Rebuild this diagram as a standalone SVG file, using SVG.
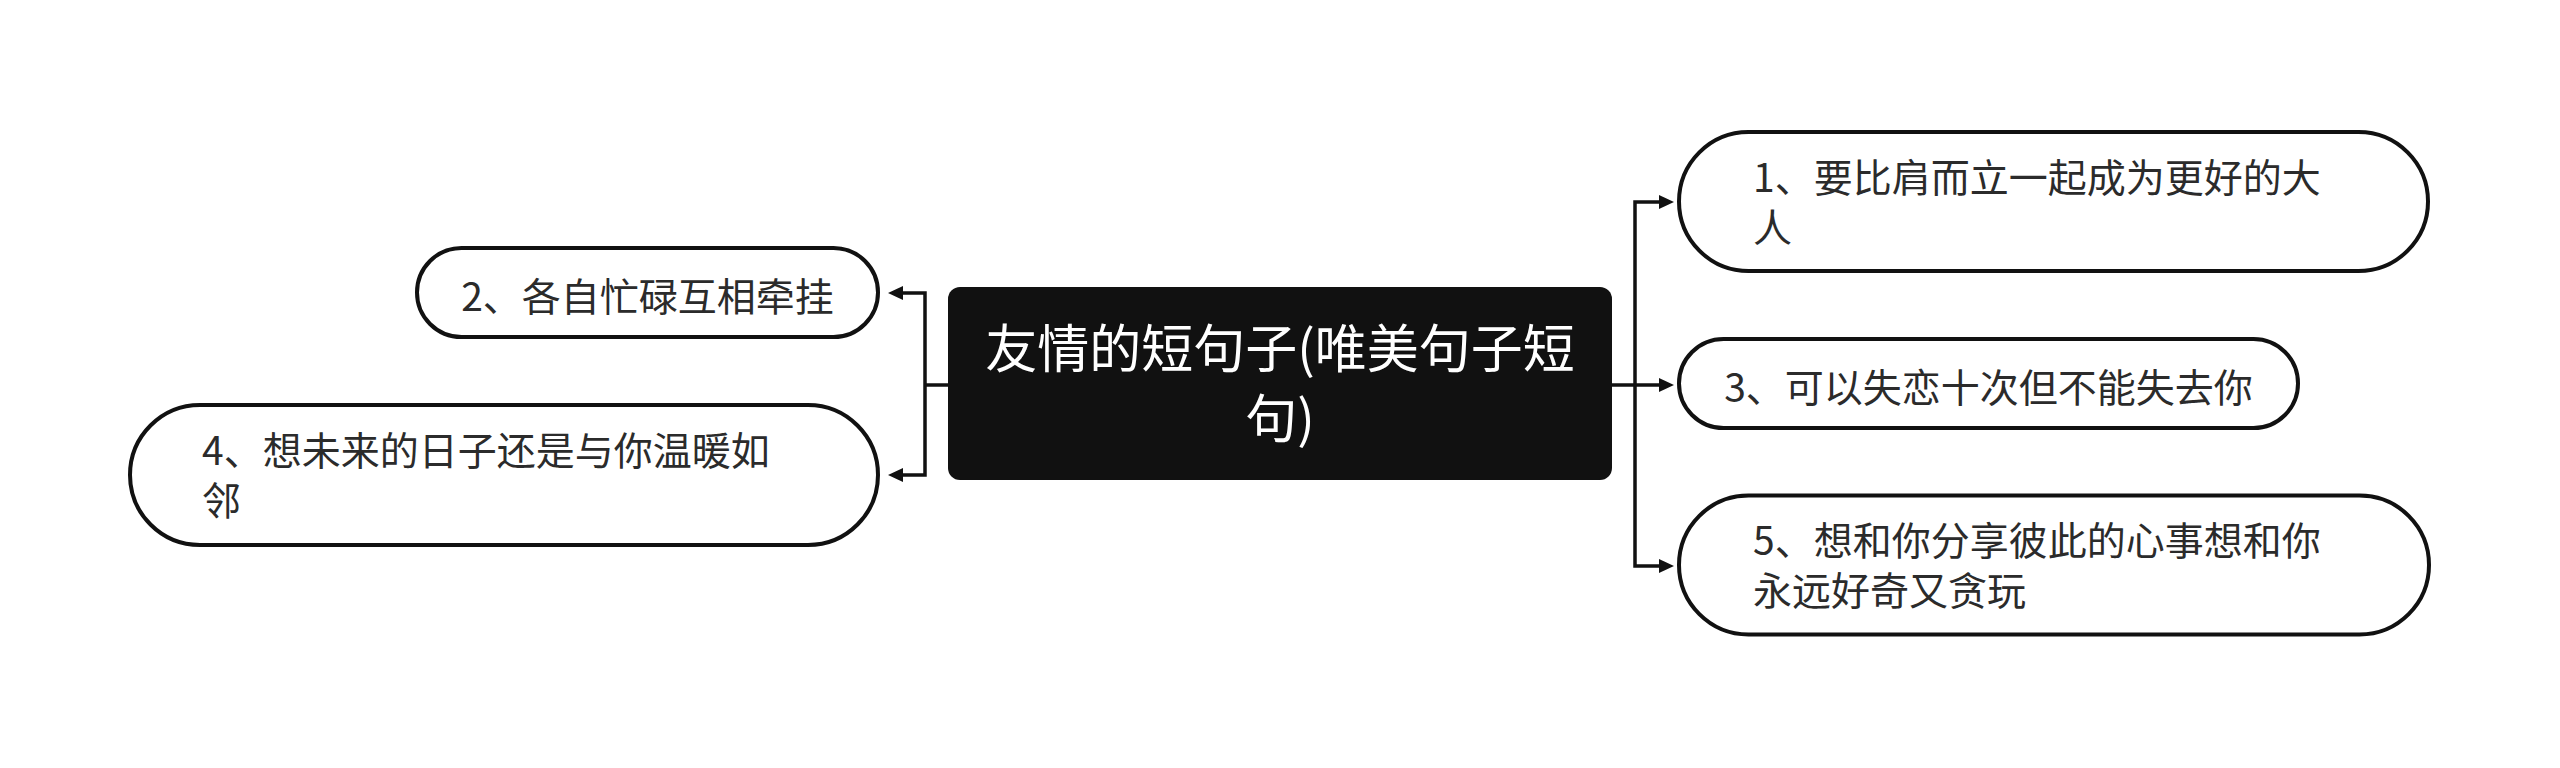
<svg xmlns="http://www.w3.org/2000/svg" width="2560" height="768" viewBox="0 0 2560 768">
  <defs>
    <style>
      .node { fill: #ffffff; stroke: #111111; stroke-width: 4; }
      .root { fill: #111111; }
      .t { font-family: "Noto Sans CJK SC", "Noto Sans", sans-serif; font-size: 39px; fill: #2b2b2b; }
      .rt { font-family: "Noto Sans CJK SC", "Noto Sans", sans-serif; font-size: 52px; fill: #ffffff; text-anchor: middle; }
      .c { text-anchor: middle; }
      .conn { fill: none; stroke: #111111; stroke-width: 3.5; }
    </style>
    <marker id="arrow" markerUnits="userSpaceOnUse" markerWidth="15" markerHeight="15" refX="0" refY="7.5" orient="auto">
      <path d="M0,0.5 L15,7.5 L0,14.5 z" fill="#111111"/>
    </marker>
  </defs>
  <rect width="2560" height="768" fill="#ffffff"/>

  <g id="connectors">
    <path class="conn" d="M1612 385 H1635"/>
    <path class="conn" d="M1635 385 V202 H1659" marker-end="url(#arrow)"/>
    <path class="conn" d="M1635 385 H1659" marker-end="url(#arrow)"/>
    <path class="conn" d="M1635 385 V566 H1659" marker-end="url(#arrow)"/>
    <path class="conn" d="M948 385 H925"/>
    <path class="conn" d="M925 385 V293 H903" marker-end="url(#arrow)"/>
    <path class="conn" d="M925 385 V475 H903" marker-end="url(#arrow)"/>
  </g>

  <g id="root">
    <rect class="root" x="948" y="287" width="664" height="193" rx="12" ry="12"/>
    <text class="rt"><tspan x="1280" y="368">友情的短句子(唯美句子短</tspan><tspan x="1280" y="438">句)</tspan></text>
  </g>

  <g id="node1">
    <rect class="node" x="1679" y="132" width="749" height="139" rx="69.5" ry="69.5"/>
    <text class="t"><tspan x="1753" y="192">1、要比肩而立一起成为更好的大</tspan><tspan x="1753" y="242">人</tspan></text>
  </g>

  <g id="node3">
    <rect class="node" x="1679" y="339" width="619" height="89" rx="44.5" ry="44.5"/>
    <text class="t c" x="1988.5" y="402">3、可以失恋十次但不能失去你</text>
  </g>

  <g id="node5">
    <rect class="node" x="1679" y="495.5" width="750" height="139" rx="69.5" ry="69.5"/>
    <text class="t"><tspan x="1753" y="555">5、想和你分享彼此的心事想和你</tspan><tspan x="1753" y="605">永远好奇又贪玩</tspan></text>
  </g>

  <g id="node2">
    <rect class="node" x="417" y="248" width="461" height="89" rx="44.5" ry="44.5"/>
    <text class="t c" x="647.5" y="311">2、各自忙碌互相牵挂</text>
  </g>

  <g id="node4">
    <rect class="node" x="130" y="405" width="748" height="140" rx="70" ry="70"/>
    <text class="t"><tspan x="202" y="465">4、想未来的日子还是与你温暖如</tspan><tspan x="202" y="515">邻</tspan></text>
  </g>
</svg>
